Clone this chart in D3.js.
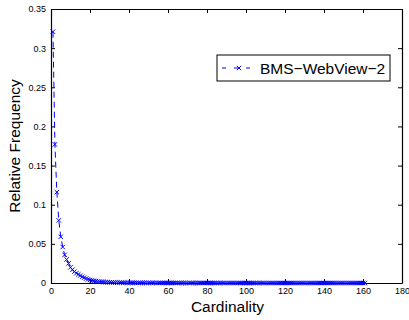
<!DOCTYPE html>
<html lang="en">
  <head>
    <meta charset="UTF-8" />
    <title>BMS-WebView-2</title>
    <style>
      body { margin: 0; background: #fff; }
      text { font-family: "Liberation Sans", Arial, sans-serif; }
    </style>
  </head>
  <body>
    <div id="chart"></div>
    <script src="https://d3js.org/d3.v7.min.js"></script>
    <script>
      // relative frequency per transaction cardinality (1, 2, 3, ...)
      var freq = [
        0.321, 0.177, 0.116, 0.080, 0.059, 0.046, 0.036, 0.030, 0.025, 0.020,
        0.017, 0.0145, 0.0125, 0.011, 0.0095, 0.008, 0.0068, 0.0057, 0.0047, 0.0039,
        0.0033, 0.0028, 0.0024, 0.0020, 0.0017, 0.0015, 0.0013, 0.0011, 0.0010, 0.0009,
        0.0008, 0.0007, 0.0007, 0.0006, 0.0006, 0.0005, 0.0005, 0.0004, 0.0004, 0.0004,
        0.0003, 0.0003, 0.0003, 0.0003, 0.0002, 0.0002, 0.0002, 0.0002, 0.0002, 0.0002,
        0.0002, 0.0002, 0.00015, 0.00015, 0.00015, 0.00015, 0.00012, 0.00012, 0.00012, 0.0001,
        0.0001, 0.0001, 0.0001, 0.0001, 0.00009, 0.00009, 0.00008, 0.00008, 0.00008, 0.00007,
        0.00007, 0.00007, 0.00006, 0.00006, 0.00006, 0.00006, 0.00005, 0.00005, 0.00005, 0.00005,
        0.00005, 0.00004, 0.00004, 0.00004, 0.00004, 0.00004, 0.00004, 0.00003, 0.00003, 0.00003,
        0.00003, 0.00003, 0.00003, 0.00003, 0.00003, 0.00002, 0.00002, 0.00002, 0.00002, 0.00002,
        0.00002, 0.00002, 0.00002, 0.00002, 0.00002, 0.00002, 0.00002, 0.00001, 0.00001, 0.00001,
        0.00001, 0.00001, 0.00001, 0.00001, 0.00001, 0.00001, 0.00001, 0.00001, 0.00001, 0.00001,
        0.00001, 0.00001, 0.00001, 0.00001, 0.00001, 0.00001, 0.00001, 0.00001, 0.00001, 0.00001,
        0.00001, 0.00001, 0.00001, 0.00001, 0.00001, 0.00001, 0.00001, 0.00001, 0.00001, 0.00001,
        0.00001, 0.00001, 0.00001, 0.00001, 0.00001, 0.00001, 0.00001, 0.00001, 0.00001, 0.00001,
        0.00001, 0.00001, 0.00001, 0.00001, 0.00001, 0.00001, 0.00001, 0.00001, 0.00001, 0.00001,
        0.00001
      ];
      var xTicks = [0, 20, 40, 60, 80, 100, 120, 140, 160, 180];
      var yTicks = [0, 0.05, 0.1, 0.15, 0.2, 0.25, 0.3, 0.35];
      var seriesName = "BMS\u2212WebView\u22122";

      var margin = { top: 9, right: 7, bottom: 37, left: 51 },
        width = 409 - margin.left - margin.right,
        height = 320 - margin.top - margin.bottom;

      var svg = d3
        .select("#chart")
        .append("svg")
        .attr("width", 409)
        .attr("height", 320)
        .append("g")
        .attr("transform", "translate(" + margin.left + "," + margin.top + ")");

      var x = d3.scaleLinear().domain([0, 180]).range([0, width]);
      var y = d3.scaleLinear().domain([0, 0.35]).range([height, 0]);

      var data = freq.map(function (v, i) {
        return { c: i + 1, f: v };
      });

      // frame with inward ticks on all four sides
      svg
        .append("g")
        .attr("transform", "translate(0," + height + ")")
        .call(d3.axisBottom(x).tickValues(xTicks).tickSizeInner(-4).tickSizeOuter(0).tickPadding(5))
        .call(styleAxis);
      svg
        .append("g")
        .call(d3.axisLeft(y).tickValues(yTicks).tickSizeInner(-4).tickSizeOuter(0).tickPadding(5)
          .tickFormat(function (d) { return d3.format("~g")(d); }))
        .call(styleAxis);
      svg
        .append("g")
        .call(d3.axisTop(x).tickValues(xTicks).tickSizeInner(-4).tickSizeOuter(0).tickFormat(""))
        .call(styleAxis);
      svg
        .append("g")
        .attr("transform", "translate(" + width + ",0)")
        .call(d3.axisRight(y).tickValues(yTicks).tickSizeInner(-4).tickSizeOuter(0).tickFormat(""))
        .call(styleAxis);

      function styleAxis(g) {
        g.select(".domain").attr("stroke", "#000").attr("stroke-width", 1.2);
        g.selectAll(".tick line").attr("stroke", "#000");
        g.selectAll(".tick text").attr("fill", "#000").style("font-size", "9px");
      }

      // dashed line + x markers
      var line = d3
        .line()
        .x(function (d) { return x(d.c); })
        .y(function (d) { return y(d.f); });

      svg
        .append("path")
        .datum(data)
        .attr("fill", "none")
        .attr("stroke", "#0000ff")
        .attr("stroke-width", 1)
        .attr("stroke-dasharray", "6,4")
        .attr("d", line);

      var m = 2.2;
      svg
        .append("g")
        .selectAll("path")
        .data(data)
        .enter()
        .append("path")
        .attr("d", function (d) {
          var cx = x(d.c), cy = y(d.f);
          return "M" + (cx - m) + "," + (cy - m) + "L" + (cx + m) + "," + (cy + m) +
            "M" + (cx - m) + "," + (cy + m) + "L" + (cx + m) + "," + (cy - m);
        })
        .attr("stroke", "#0000ff")
        .attr("stroke-width", 1)
        .attr("fill", "none");

      // axis labels
      svg
        .append("text")
        .attr("x", width / 2 + 1)
        .attr("y", height + 29)
        .attr("text-anchor", "middle")
        .style("font-size", "15.5px")
        .text("Cardinality");

      svg
        .append("text")
        .attr("transform", "translate(-31," + height / 2 + ")rotate(-90)")
        .attr("text-anchor", "middle")
        .style("font-size", "15.5px")
        .text("Relative Frequency");

      // legend
      var legend = svg.append("g").attr("transform", "translate(166,46)");
      legend
        .append("rect")
        .attr("width", 173)
        .attr("height", 26)
        .attr("fill", "#fff")
        .attr("stroke", "#000")
        .attr("stroke-width", 1);
      legend
        .append("line")
        .attr("x1", 5)
        .attr("x2", 36)
        .attr("y1", 13)
        .attr("y2", 13)
        .attr("stroke", "#0000ff")
        .attr("stroke-dasharray", "4,8");
      legend
        .append("path")
        .attr("d", "M" + (22 - m) + "," + (13 - m) + "L" + (22 + m) + "," + (13 + m) +
          "M" + (22 - m) + "," + (13 + m) + "L" + (22 + m) + "," + (13 - m))
        .attr("stroke", "#0000ff")
        .attr("fill", "none");
      legend
        .append("text")
        .attr("x", 43)
        .attr("y", 19)
        .style("font-size", "15.5px")
        .text(seriesName);
    </script>
  </body>
</html>
